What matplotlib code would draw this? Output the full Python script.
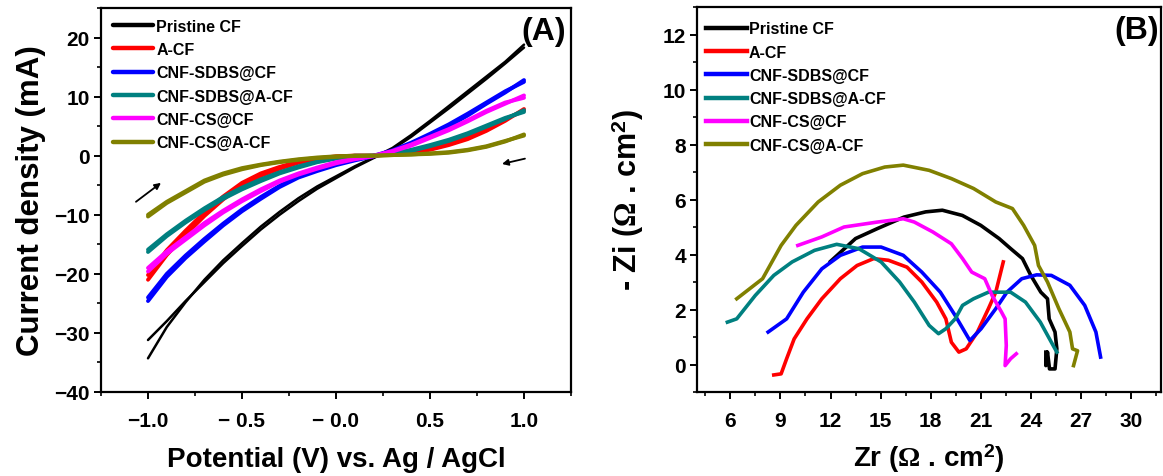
import matplotlib
matplotlib.use("Agg")
import matplotlib.pyplot as plt
from matplotlib.ticker import MultipleLocator, FixedLocator, FixedFormatter

plt.rcParams['font.family'] = ['Liberation Sans', 'DejaVu Sans']
plt.rcParams['font.weight'] = 'bold'
plt.rcParams['mathtext.fontset'] = 'custom'
plt.rcParams['mathtext.rm'] = 'Liberation Serif'
plt.rcParams['mathtext.it'] = 'Liberation Serif:italic'
plt.rcParams['mathtext.bf'] = 'Liberation Sans:bold'

# ---------------- data ----------------
series_names = ["Pristine CF", "A-CF", "CNF-SDBS@CF", "CNF-SDBS@A-CF", "CNF-CS@CF", "CNF-CS@A-CF"]
series_colors = ["#000000", "#ff0000", "#0000ff", "#008080", "#ff00ff", "#808000"]

# Panel A: potential (V) and current density (mA), forward / reverse sweeps
potential = [-1.0, -0.9, -0.8, -0.7, -0.6, -0.5, -0.4, -0.3, -0.2, -0.1, 0.0,
             0.1, 0.2, 0.3, 0.4, 0.5, 0.6, 0.7, 0.8, 0.9, 1.0]

pristine_fwd = [-34.3, -29.0, -24.8, -21.0, -17.7, -14.8, -12.0, -9.5, -7.2, -5.2, -3.5,
                -1.8, -0.3, 1.3, 3.5, 5.9, 8.4, 10.9, 13.4, 15.9, 18.8]
pristine_rev = [-31.2, -28.0, -24.6, -21.4, -18.2, -15.3, -12.5, -10.0, -7.7, -5.6, -3.8,
                -2.0, -0.4, 1.1, 3.2, 5.6, 8.0, 10.5, 13.0, 15.6, 18.3]
acf_fwd = [-21.0, -16.8, -13.4, -10.2, -7.4, -5.0, -3.4, -2.2, -1.2, -0.6, -0.2,
           0.0, 0.0, 0.2, 0.5, 1.0, 1.8, 2.8, 4.2, 5.9, 7.9]
acf_rev = [-20.2, -16.0, -12.7, -9.6, -6.9, -4.6, -3.0, -1.9, -1.0, -0.5, -0.1,
           0.0, 0.0, 0.3, 0.7, 1.3, 2.1, 3.2, 4.6, 6.2, 7.6]
sdbs_cf_fwd = [-24.6, -20.5, -17.3, -14.5, -11.8, -9.4, -7.3, -5.3, -3.7, -2.6, -1.6,
               -0.8, -0.1, 0.8, 2.0, 3.5, 5.0, 6.8, 8.8, 10.7, 12.8]
sdbs_cf_rev = [-24.0, -20.0, -16.9, -14.1, -11.5, -9.1, -7.0, -5.1, -3.5, -2.4, -1.4,
               -0.6, 0.0, 0.9, 2.2, 3.7, 5.3, 7.1, 9.0, 10.9, 12.5]
sdbs_acf_fwd = [-16.3, -13.6, -11.3, -9.2, -7.3, -5.7, -4.3, -3.0, -2.0, -1.1, -0.5,
                -0.1, 0.0, 0.3, 0.8, 1.6, 2.5, 3.6, 4.9, 6.2, 7.7]
sdbs_acf_rev = [-15.9, -13.3, -11.0, -8.9, -7.0, -5.4, -4.0, -2.8, -1.8, -1.0, -0.4,
                0.0, 0.0, 0.4, 1.0, 1.8, 2.7, 3.8, 5.1, 6.4, 7.4]
cs_cf_fwd = [-19.6, -16.6, -14.2, -11.8, -9.6, -7.7, -6.0, -4.4, -3.2, -2.2, -1.3,
             -0.6, -0.1, 0.7, 1.7, 3.0, 4.3, 5.8, 7.4, 8.8, 10.2]
cs_cf_rev = [-19.0, -16.2, -13.8, -11.4, -9.3, -7.4, -5.7, -4.2, -3.0, -2.0, -1.1,
             -0.5, 0.0, 0.8, 1.9, 3.2, 4.5, 6.0, 7.6, 9.0, 9.8]
cs_acf_fwd = [-10.3, -8.0, -6.2, -4.4, -3.2, -2.3, -1.6, -1.1, -0.7, -0.4, -0.2,
              -0.05, 0.0, 0.1, 0.2, 0.3, 0.5, 0.9, 1.5, 2.4, 3.6]
cs_acf_rev = [-10.0, -7.8, -6.0, -4.2, -3.0, -2.1, -1.5, -1.0, -0.6, -0.3, -0.1,
              0.0, 0.0, 0.1, 0.2, 0.4, 0.6, 1.0, 1.6, 2.5, 3.4]

xticks_a = [-1.0, -0.5, 0.0, 0.5, 1.0]
xticklabels_a = ["\u22121.0", "\u2212 0.5", "\u2212 0.0", "0.5", "1.0"]
yticks_a = [-40, -30, -20, -10, 0, 10, 20]

# sweep-direction arrows (tail, head) in data units
arrow_left = [(-1.064, -7.8), (-0.931, -4.6)]
arrow_right = [(1.005, -0.5), (0.883, -1.4)]

# Panel B: Nyquist data (Zr, Zi)
pristine_zr = [12.0, 13.5, 14.8, 16.4, 17.7, 18.7, 19.9, 21.0, 22.1, 22.8, 23.5, 24.0,
               24.6, 25.0, 25.1, 25.45, 25.56, 25.45, 25.12, 25.0, 24.9, 24.9]
pristine_zi = [3.75, 4.58, 4.94, 5.36, 5.55, 5.61, 5.42, 5.06, 4.58, 4.21, 3.85, 3.24,
               2.63, 2.39, 1.66, 1.18, 0.57, -0.16, -0.16, 0.45, -0.04, 0.45]
acf_zr = [8.6, 9.04, 9.37, 9.82, 10.59, 11.48, 12.59, 13.59, 14.58, 15.47, 16.58, 17.47,
          18.36, 18.91, 19.24, 19.69, 20.13, 20.8, 21.46, 21.9, 22.35]
acf_zi = [-0.38, -0.34, 0.21, 0.93, 1.66, 2.39, 3.12, 3.60, 3.85, 3.79, 3.54, 3.0,
          2.27, 1.66, 0.81, 0.45, 0.57, 1.18, 2.03, 2.63, 3.73]
sdbs_cf_zr = [8.26, 9.37, 10.37, 11.48, 12.59, 13.92, 15.03, 16.36, 17.47, 18.58, 19.47,
              20.35, 21.02, 21.9, 22.57, 23.46, 24.35, 25.23, 26.34, 27.23, 27.9, 28.18]
sdbs_cf_zi = [1.18, 1.66, 2.63, 3.48, 3.97, 4.27, 4.27, 3.97, 3.36, 2.63, 1.78,
              0.87, 1.30, 2.03, 2.63, 3.12, 3.26, 3.24, 2.88, 2.15, 1.18, 0.27]
sdbs_acf_zr = [5.82, 6.38, 7.49, 8.6, 9.7, 11.04, 12.37, 13.7, 15.03, 16.14, 17.02, 17.91,
               18.47, 18.91, 19.47, 19.91, 20.57, 21.46, 22.79, 23.68, 24.57, 25.23, 25.56]
sdbs_acf_zi = [1.54, 1.66, 2.51, 3.24, 3.73, 4.15, 4.37, 4.21, 3.73, 3.0, 2.27, 1.42,
               1.12, 1.30, 1.66, 2.15, 2.39, 2.63, 2.63, 2.27, 1.54, 0.81, 0.45]
cs_cf_zr = [10.04, 11.48, 12.81, 14.81, 16.36, 17.02, 18.13, 19.24, 19.91, 20.46, 21.24,
            21.68, 22.24, 22.46, 22.53, 22.46, 22.79, 23.13]
cs_cf_zi = [4.33, 4.64, 5.0, 5.18, 5.30, 5.18, 4.82, 4.39, 3.85, 3.36, 3.12,
            2.51, 1.91, 1.66, 0.69, -0.04, 0.21, 0.39]
cs_acf_zr = [6.38, 7.93, 9.04, 9.93, 11.26, 12.59, 13.92, 15.25, 16.36, 17.91, 19.24,
             20.57, 21.9, 22.9, 23.57, 24.23, 24.46, 25.0, 25.68, 26.34, 26.5, 26.8, 26.56]
cs_acf_zi = [2.39, 3.12, 4.33, 5.06, 5.91, 6.52, 6.94, 7.18, 7.25, 7.06, 6.76,
             6.40, 5.91, 5.67, 5.06, 4.33, 3.60, 3.0, 2.03, 1.18, 0.57, 0.5, -0.04]

xticks_b = [6, 9, 12, 15, 18, 21, 24, 27, 30]
yticks_b = [0, 2, 4, 6, 8, 10, 12]

iv_fwd = [pristine_fwd, acf_fwd, sdbs_cf_fwd, sdbs_acf_fwd, cs_cf_fwd, cs_acf_fwd]
iv_rev = [pristine_rev, acf_rev, sdbs_cf_rev, sdbs_acf_rev, cs_cf_rev, cs_acf_rev]
nyq_zr = [pristine_zr, acf_zr, sdbs_cf_zr, sdbs_acf_zr, cs_cf_zr, cs_acf_zr]
nyq_zi = [pristine_zi, acf_zi, sdbs_cf_zi, sdbs_acf_zi, cs_cf_zi, cs_acf_zi]

# ---------------- figure ----------------
fig = plt.figure(figsize=(11.63, 4.77), dpi=100)
W, H = 1163, 477
axA = fig.add_axes([101 / W, (H - 393) / H, 470 / W, 384 / H])
axB = fig.add_axes([697 / W, (H - 393) / H, 464 / W, 385 / H])


def style_axes(ax):
    for s in ax.spines.values():
        s.set_linewidth(1.6)
    ax.tick_params(which='major', direction='out', length=5, width=1.4,
                   labelsize=15, pad=3)
    ax.tick_params(axis='x', which='major', pad=9)
    ax.tick_params(which='minor', direction='out', length=3, width=1.2)
    for lab in ax.get_xticklabels() + ax.get_yticklabels():
        lab.set_fontweight('bold')


def style_legend(leg):
    for t in leg.get_texts():
        t.set_fontweight('bold')
    for l in leg.get_lines():
        l.set_linewidth(3.2)


# Panel A
for name, col, fw, rv in zip(series_names, series_colors, iv_fwd, iv_rev):
    lw = 1.8 if col == "#000000" else 2.8
    axA.plot(potential, fw, color=col, lw=lw, label=name, solid_capstyle='round')
    axA.plot(potential, rv, color=col, lw=lw, solid_capstyle='round')

axA.set_xlim(-1.25, 1.25)
axA.set_ylim(-40, 25)
axA.xaxis.set_major_locator(FixedLocator(xticks_a))
axA.xaxis.set_major_formatter(FixedFormatter(xticklabels_a))
axA.xaxis.set_minor_locator(MultipleLocator(0.25))
axA.yaxis.set_major_locator(FixedLocator(yticks_a))
axA.yaxis.set_minor_locator(MultipleLocator(5))
style_axes(axA)
axA.set_xlabel("Potential (V) vs. Ag / AgCl", fontsize=20, fontweight='bold', labelpad=11)
axA.set_ylabel("Current density (mA)", fontsize=22.5, fontweight='bold', labelpad=6)
axA.text(0.99, 0.94, "(A)", transform=axA.transAxes, ha='right', va='center',
         fontsize=23, fontweight='bold')
for tail, head in (arrow_left, arrow_right):
    axA.annotate('', xy=head, xytext=tail,
                 arrowprops=dict(arrowstyle='-|>', color='k', lw=1.3, mutation_scale=9,
                                 shrinkA=0, shrinkB=0))

legA = axA.legend(loc='upper left', bbox_to_anchor=(0.026, 0.972), frameon=False,
                  fontsize=11.5, handlelength=2.5, handletextpad=0.2, labelspacing=0.52,
                  borderaxespad=0, borderpad=0)
style_legend(legA)

# Panel B
for name, col, zr, zi in zip(series_names, series_colors, nyq_zr, nyq_zi):
    axB.plot(zr, zi, color=col, lw=2.6, label=name, solid_joinstyle='round')

axB.set_xlim(4.0, 31.8)
axB.set_ylim(-1, 13)
axB.xaxis.set_major_locator(FixedLocator(xticks_b))
axB.xaxis.set_minor_locator(MultipleLocator(1.5))
axB.yaxis.set_major_locator(FixedLocator(yticks_b))
axB.yaxis.set_minor_locator(MultipleLocator(1))
style_axes(axB)
axB.set_xlabel(r"Zr ($\Omega$ . cm$^{\mathbf{2}}$)", fontsize=20, fontweight='bold', labelpad=8)
axB.set_ylabel(r"- Zi ($\Omega$ . cm$^{\mathbf{2}}$)", fontsize=22, fontweight='bold', labelpad=12)
axB.text(0.995, 0.94, "(B)", transform=axB.transAxes, ha='right', va='center',
         fontsize=23, fontweight='bold')

legB = axB.legend(loc='upper left', bbox_to_anchor=(0.019, 0.963), frameon=False,
                  fontsize=11.5, handlelength=2.6, handletextpad=0.1, labelspacing=0.52,
                  borderaxespad=0, borderpad=0)
style_legend(legB)

fig.savefig("out.png", dpi=100)
